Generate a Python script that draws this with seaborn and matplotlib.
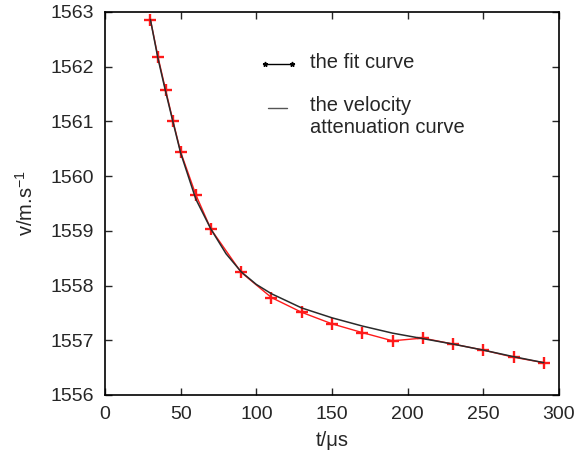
import pandas as pd
import matplotlib
matplotlib.use("Agg")
import matplotlib.pyplot as plt
import seaborn as sns

# measured velocity attenuation (red)
t_meas = [30, 35, 40, 45, 50, 60, 70, 90, 110, 130, 150, 170, 190, 210, 230, 250, 270, 290]
v_meas = [1562.86, 1562.18, 1561.58, 1561.0, 1560.44, 1559.66, 1559.03, 1558.24, 1557.78,
          1557.51, 1557.30, 1557.14, 1556.99, 1557.04, 1556.93, 1556.82, 1556.69, 1556.59]

# fit curve (black)
t_fit = [30, 35, 40, 45, 50, 60, 70, 80, 90, 100, 110, 130, 150, 170, 190, 210, 230, 250, 270, 290]
v_fit = [1562.86, 1562.15, 1561.55, 1560.98, 1560.42, 1559.58, 1559.03, 1558.58, 1558.25,
         1558.02, 1557.85, 1557.59, 1557.41, 1557.26, 1557.13, 1557.03, 1556.93, 1556.82,
         1556.70, 1556.59]

df_meas = pd.DataFrame({"t": t_meas, "v": v_meas})
df_fit = pd.DataFrame({"t": t_fit, "v": v_fit})

sns.set_style("ticks")
plt.rcParams["font.family"] = ["Liberation Sans", "DejaVu Sans"]
plt.rcParams["mathtext.fontset"] = "custom"
plt.rcParams["mathtext.rm"] = "Liberation Sans"

fig = plt.figure(figsize=(5.75, 4.61), dpi=100)
ax = fig.add_axes([0.1826, 0.1432, 0.7896, 0.831])

sns.lineplot(data=df_meas, x="t", y="v", ax=ax, color="#ff1a1a", linewidth=1.0,
             marker="+", markersize=9, markeredgewidth=1.7, markeredgecolor="#ff1a1a")
sns.lineplot(data=df_fit, x="t", y="v", ax=ax, color="#2a2a2a", linewidth=1.1)

# hand-made legend (second label's handle sits on its first line)
ax.plot([0.352, 0.412], [0.864, 0.864], transform=ax.transAxes, color="black",
        linewidth=1.0, marker="*", markersize=3.5)
ax.plot([0.359, 0.401], [0.749, 0.749], transform=ax.transAxes, color="#555555",
        linewidth=1.0)
ax.text(0.4515, 0.869, "the fit curve", transform=ax.transAxes, fontsize=14.5,
        va="center", ha="left")
ax.text(0.4515, 0.755, "the velocity", transform=ax.transAxes, fontsize=14.5,
        va="center", ha="left")
ax.text(0.4515, 0.697, "attenuation curve", transform=ax.transAxes, fontsize=14.5,
        va="center", ha="left")

ax.set_xlim(0, 300)
ax.set_ylim(1556, 1563)
ax.set_xticks([0, 50, 100, 150, 200, 250, 300])
ax.set_yticks([1556, 1557, 1558, 1559, 1560, 1561, 1562, 1563])
ax.tick_params(direction="in", top=True, right=True, labelsize=14, length=5, width=1.0,
               pad=8)
ax.set_xlabel("t/μs", fontsize=14.5, labelpad=6)
ax.set_ylabel("v/m.s$^{\\mathregular{-1}}$", fontsize=14.5, labelpad=10)
for s in ax.spines.values():
    s.set_linewidth(1.2)
    s.set_color("black")

fig.savefig("out.png", dpi=100)
